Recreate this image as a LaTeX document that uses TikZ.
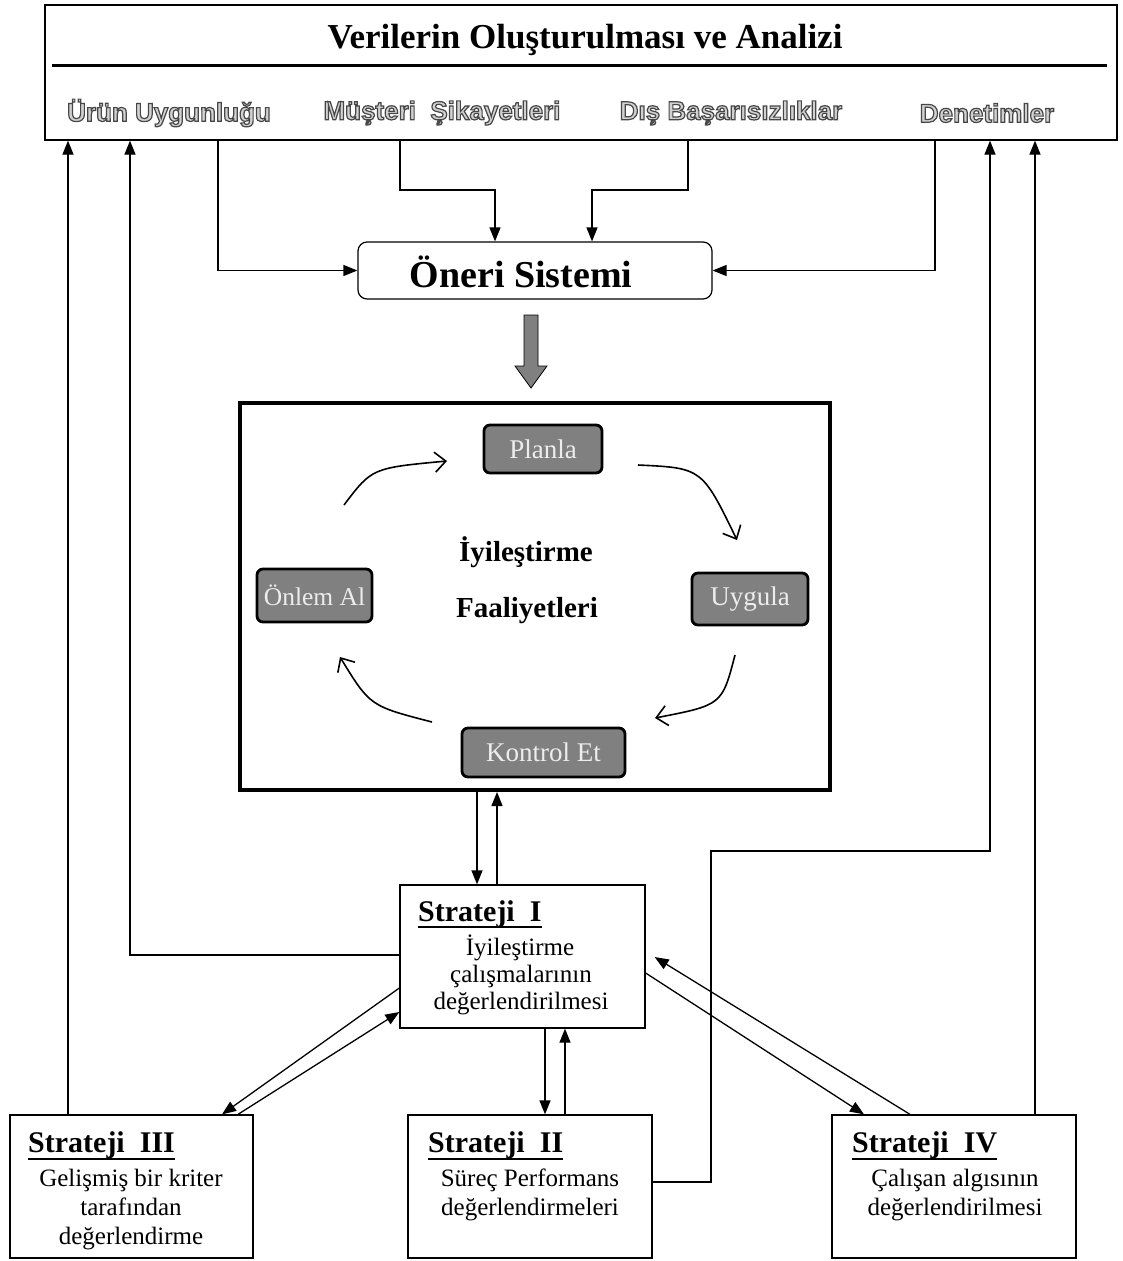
\documentclass[tikz,border=0pt]{standalone}
\usepackage{fontspec}
\setmainfont{Liberation Serif}
\newfontfamily\lblfont{Liberation Sans}
\usetikzlibrary{arrows.meta,calc}
\newcommand\outlinetext[1]{\special{pdf:literal direct 2 Tr 1.2 w 0.28 G}#1\special{pdf:literal direct 0 Tr 0 G}}
\begin{document}
\begin{tikzpicture}[x=1pt,y=-1pt,
  arr/.style={line width=1.3pt,-{Triangle[length=14pt,width=11pt]}},
  sbox/.style={draw,line width=1.3pt,inner sep=0pt},
  pdca/.style={draw=black,line width=2.8pt,rounded corners=6pt,fill=black!50,text=white!93!black,font=\fontsize{27}{30}\selectfont,inner sep=0pt},
  cyc/.style={line width=1.6pt,-{Straight Barb[length=11pt,width=20pt]}},
  lbl/.style={font=\lblfont\bfseries\fontsize{26}{30}\selectfont,inner sep=0pt,text=white!82!black},
  head/.style={font=\bfseries\fontsize{30}{34}\selectfont,anchor=base west,inner sep=0pt},
  body/.style={font=\fontsize{25}{29}\selectfont,anchor=base,inner sep=0pt}
]
\useasboundingbox (0,0) rectangle (1122,1261);
\fill[white] (0,0) rectangle (1122,1261);

% top box
\node[sbox,minimum width=1072,minimum height=135] (dbox) at (581,72.5) {};
\node[font=\bfseries\fontsize{35}{40}\selectfont] (title) at (585,40) {Verilerin Oluşturulması ve Analizi};
\draw[line width=3pt] (52,65) -- (1107,65);

\node[lbl] (l1) at (169,113) {\outlinetext{Ürün Uygunluğu}};
\node[lbl] (l2) at (442,113) {\outlinetext{Müşteri\ \ Şikayetleri}};
\node[lbl] (l3) at (731,113) {\outlinetext{Dış Başarısızlıklar}};
\node[lbl] (l4) at (987,113) {\outlinetext{Denetimler}};

% oneri
\node[draw,line width=1.2pt,rounded corners=9pt,minimum width=354,minimum height=57,inner sep=0pt] (oneri) at (535,270.5) {};
\node[font=\bfseries\fontsize{38}{42}\selectfont,inner sep=0pt] (onerit) at (521,272) {Öneri Sistemi};

\draw[arr] (dbox.south -| 218,0) |- (oneri.west);
\draw[arr] (dbox.south -| 400,0) -- (400,190) -| (oneri.north -| 495,0);
\draw[arr] (dbox.south -| 688,0) -- (688,190) -| (oneri.north -| 592,0);
\draw[arr] (dbox.south -| 935,0) |- (oneri.east);

% block arrow
\draw[fill=black!50,line width=0.8pt] (524,315) -- (538,315) -- (538,366) -- (547,366) -- (531,388) -- (515,366) -- (524,366) -- cycle;

% PDCA box
\node[draw,line width=4pt,minimum width=590,minimum height=387,inner sep=0pt] (pbox) at (535,596.5) {};
\node[pdca,minimum width=118,minimum height=48] (plan) at (543,449) {Planla};
\node[pdca,minimum width=116,minimum height=52] (uyg) at (750,599) {Uygula};
\node[pdca,minimum width=115,minimum height=53,font=\fontsize{25.5}{29}\selectfont] (onl) at (314.5,595.5) {Önlem Al};
\node[pdca,minimum width=163,minimum height=49] (kon) at (543.5,752.5) {Kontrol Et};
\node[font=\bfseries\fontsize{29}{33}\selectfont] (c1) at (526,552) {İyileştirme};
\node[font=\bfseries\fontsize{29}{33}\selectfont] (c2) at (527,611) {Faaliyetleri};

\draw[cyc] (344,505) .. controls (372,468) .. (447,461);
\draw[cyc] (638,465) .. controls (702,468) .. (737,540);
\draw[cyc] (735,655) .. controls (722,705) .. (655,718);
\draw[cyc] (432,722) .. controls (370,706) .. (340,657);

% Strateji boxes
\node[sbox,minimum width=245,minimum height=143] (s1) at (522.5,956.5) {};
\node[sbox,minimum width=243,minimum height=143] (s3) at (131.5,1186.5) {};
\node[sbox,minimum width=244,minimum height=143] (s2) at (530,1186.5) {};
\node[sbox,minimum width=244,minimum height=143] (s4) at (954,1186.5) {};

\node[head] (h1) at (418,921) {Strateji\ \ I};
\draw[line width=2.4pt] ($(h1.base west)+(0,6)$) -- ($(h1.base east)+(0,6)$);
\node[body] (b11) at (520,955) {İyileştirme};
\node[body] (b12) at (521,982) {çalışmalarının};
\node[body] (b13) at (521,1009) {değerlendirilmesi};

\node[head] (h3) at (28,1152) {Strateji\ \ III};
\draw[line width=2.4pt] ($(h3.base west)+(0,7)$) -- ($(h3.base east)+(0,7)$);
\node[body] (b31) at (131,1186) {Gelişmiş bir kriter};
\node[body] (b32) at (131,1215) {tarafından};
\node[body] (b33) at (131,1244) {değerlendirme};

\node[head] (h2) at (428,1152) {Strateji\ \ II};
\draw[line width=2.4pt] ($(h2.base west)+(0,7)$) -- ($(h2.base east)+(0,7)$);
\node[body] (b21) at (530,1186) {Süreç Performans};
\node[body] (b22) at (530,1215) {değerlendirmeleri};

\node[head] (h4) at (852,1152) {Strateji\ \ IV};
\draw[line width=2.4pt] ($(h4.base west)+(0,7)$) -- ($(h4.base east)+(0,7)$);
\node[body] (b41) at (955,1186) {Çalışan algısının};
\node[body] (b42) at (955,1215) {değerlendirilmesi};

% connectors
\draw[arr] (pbox.south -| 477,0) -- (s1.north -| 477,0);
\draw[arr] (s1.north -| 497,0) -- (pbox.south -| 497,0);
\draw[arr] (s1.south -| 545,0) -- (s2.north -| 545,0);
\draw[arr] (s2.north -| 565,0) -- (s1.south -| 565,0);
\draw[arr] (s1.west |- 0,988) -- (s3.north -| 222,0);
\draw[arr] (s3.north -| 238,0) -- (s1.west |- 0,1012);
\draw[arr] (s1.east |- 0,973) -- (s4.north -| 864,0);
\draw[arr] (s4.north -| 910,0) -- ($(s1.east |- 0,957)+(9,0)$);
\draw[arr] (s1.west |- 0,955) -| (dbox.south -| 130,0);
\draw[arr] (s3.north -| 68,0) -- (dbox.south -| 68,0);
\draw[arr] (s4.north -| 1035,0) -- (dbox.south -| 1035,0);
\draw[arr] (s2.east |- 0,1182) -- (711,1182) -- (711,851) -- (990,851) -- (dbox.south -| 990,0);
\end{tikzpicture}
\end{document}
